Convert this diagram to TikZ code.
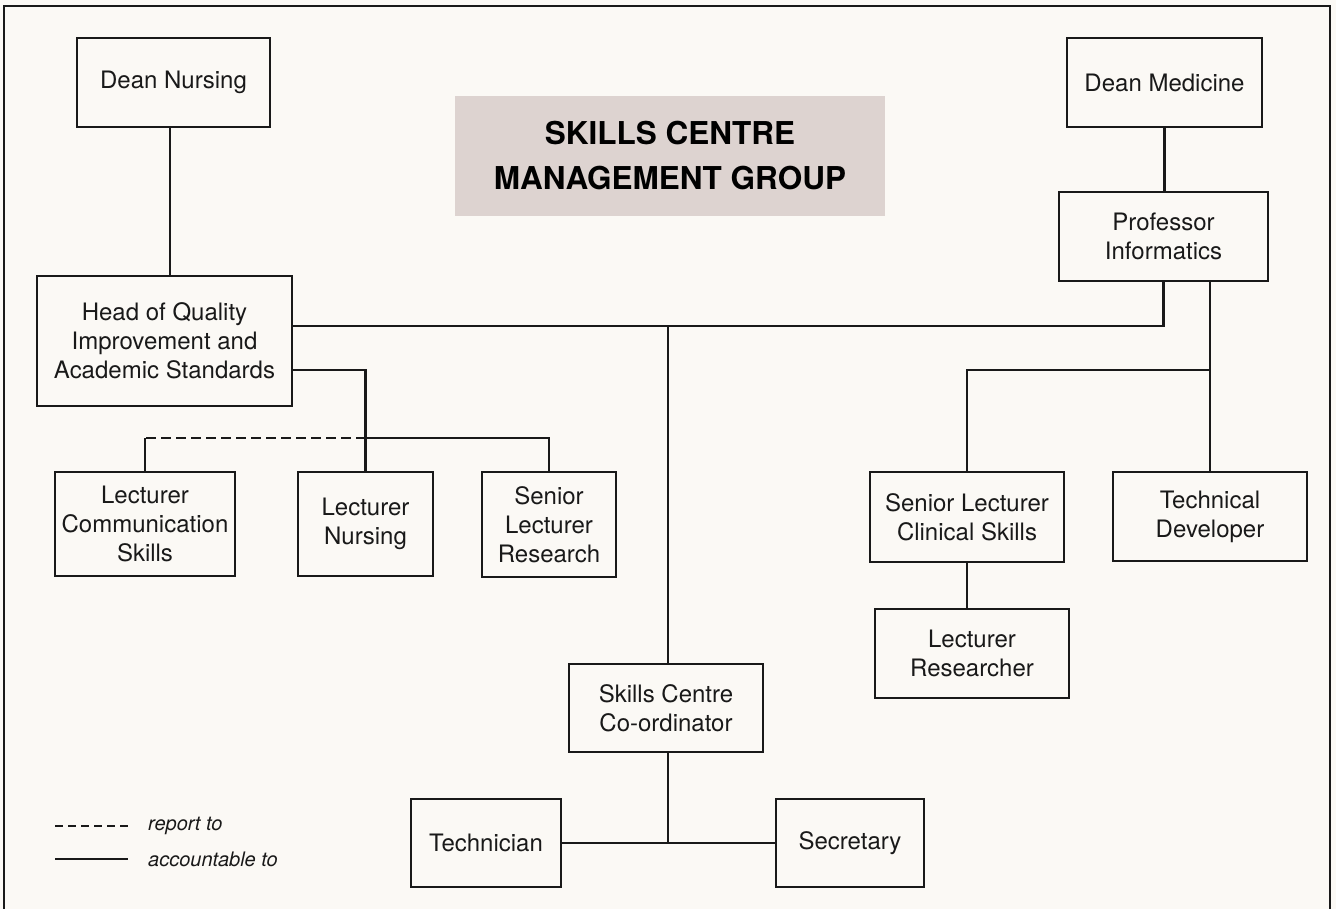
\documentclass[tikz,border=0pt]{standalone}
\usepackage{fontspec}
\setmainfont{TeX Gyre Heros}
\begin{document}
\begin{tikzpicture}[x=1pt,y=-1pt,
  box/.style={draw=black!90, line width=2.2pt, fill=paper, inner sep=0pt,
    align=center, text=black!90, font=\fontsize{24}{29}\selectfont},
  link/.style={draw=black!90, line width=2.7pt},
  legendtext/.style={anchor=west, inner sep=0pt, text=black!90,
    font=\fontsize{20}{24}\selectfont\itshape}]
\definecolor{paper}{HTML}{FBF9F5}
\definecolor{titlefill}{HTML}{DDD3D0}
\useasboundingbox (0,0) rectangle (1336,909);
\fill[paper] (0,0) rectangle (1336,909);
% outer frame, open at the foot
\draw[line width=2.5pt, black!90] (4,909) -- (4,6) -- (1330,6) -- (1330,909);

% title panel
\node[fill=titlefill, minimum width=430pt, minimum height=120pt, inner sep=0pt,
  align=center, font=\fontsize{31.5}{45}\selectfont\bfseries, text=black]
  (title) at (670,156) {SKILLS CENTRE\\MANAGEMENT GROUP};

% posts
\node[box, minimum width=193pt, minimum height=89pt] (dn) at (173.5,82.5) {Dean Nursing};
\node[box, minimum width=195pt, minimum height=89pt] (dm) at (1164.5,82.5) {Dean Medicine};
\node[box, minimum width=209pt, minimum height=89pt] (prof) at (1163.5,236.5) {Professor\\Informatics};
\node[box, minimum width=255pt, minimum height=130pt] (head) at (164.5,341) {Head of Quality\\Improvement and\\Academic Standards};
\node[box, minimum width=180pt, minimum height=104pt] (lcs) at (145,524) {Lecturer\\Communication\\Skills};
\node[box, minimum width=135pt, minimum height=104pt] (ln) at (365.5,524) {Lecturer\\Nursing};
\node[box, minimum width=134pt, minimum height=105pt] (slr) at (549,524.5) {Senior\\Lecturer\\Research};
\node[box, minimum width=194pt, minimum height=90pt] (slcs) at (967,517) {Senior Lecturer\\Clinical Skills};
\node[box, minimum width=194pt, minimum height=89pt] (td) at (1210,516.5) {Technical\\Developer};
\node[box, minimum width=194pt, minimum height=89pt] (lr) at (972,653.5) {Lecturer\\Researcher};
\node[box, minimum width=194pt, minimum height=88pt] (scc) at (666,708) {Skills Centre\\Co-ordinator};
\node[box, minimum width=150pt, minimum height=88pt] (tech) at (486,843) {Technician};
\node[box, minimum width=148pt, minimum height=88pt] (sec) at (850,843) {Secretary};

% junction points on the buses
\coordinate (mainbus) at ([xshift=2pt]scc.north |- 0,326);
\coordinate (leftbus) at (ln.north |- 0,438);
\coordinate (rightbus) at (td.north |- 0,370);

% accountable-to links
\draw[link] ([xshift=-3.5pt]dn.south) -- ([xshift=-3.5pt]dn.south |- head.north);
\draw[link] (dm.south) -- (dm.south |- prof.north);
\draw[link] ([yshift=15pt]head.east) -| (prof.south);
\draw[link] (mainbus) -- (mainbus |- scc.north);
\draw[link] ([yshift=-29pt]head.east) -| (ln.north);
\draw[link] (leftbus) -| (slr.north);
\draw[link] (lcs.north |- leftbus) -- (lcs.north);
\draw[link] (td.north |- prof.south) -- (td.north);
\draw[link] (rightbus) -| (slcs.north);
\draw[link] (slcs.south) -- (slcs.south |- lr.north);
\draw[link] ([xshift=2pt]scc.south) -- ([xshift=2pt]scc.south |- tech.east);
\draw[link] (tech.east) -- (sec.west);

% report-to link
\draw[link, dash pattern=on 10pt off 5pt] (leftbus) -- (lcs.north |- leftbus);

% key
\coordinate (k1a) at (55,826);
\coordinate (k1b) at (128,826);
\coordinate (k2a) at (55,859);
\coordinate (k2b) at (128,859);
\draw[link, dash pattern=on 8pt off 5pt] (k1a) -- (k1b);
\draw[link] (k2a) -- (k2b);
\node[legendtext] (keyreport) at (148,826) {report to};
\node[legendtext] (keyaccount) at (148,859) {accountable to};
\end{tikzpicture}
\end{document}
